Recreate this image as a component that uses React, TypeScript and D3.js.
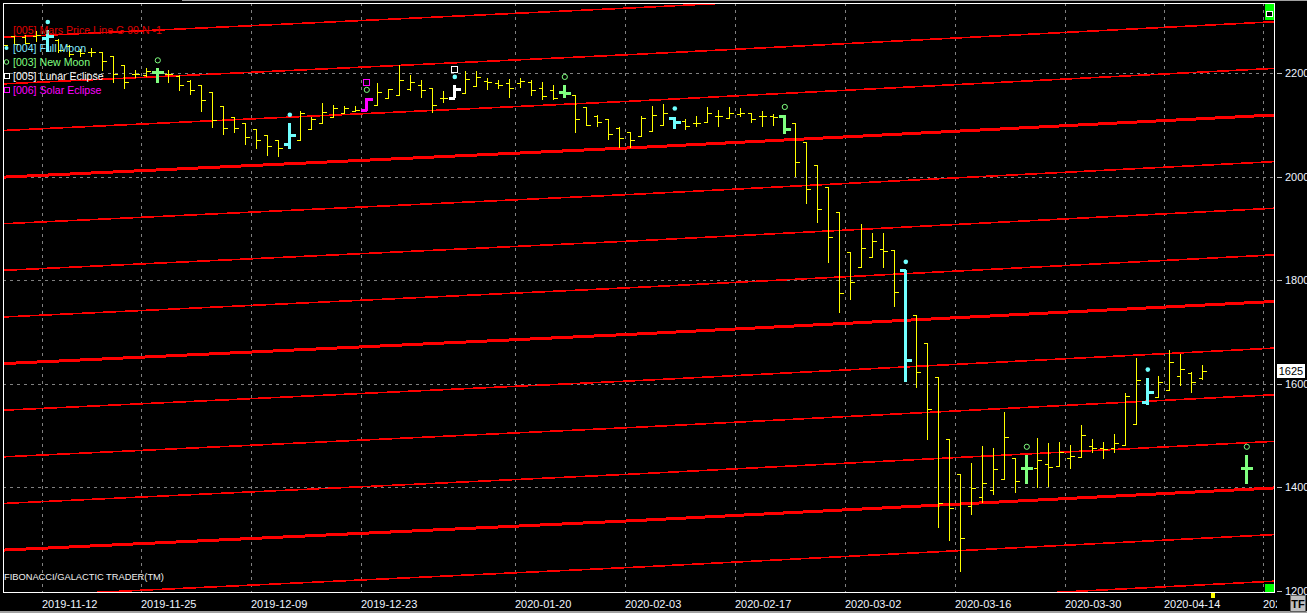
import { useEffect, useRef } from "react";
import * as d3 from "d3";

const WIDTH = 1307;
const HEIGHT = 613;
const PLOT = { LEFT: 3, TOP: 3, RIGHT: 1274.5, BOTTOM: 592 };
const FONT = "'Liberation Sans', Arial, sans-serif";

// daily OHLC, bar index 0 = 2019-11-06 ... 109 = 2020-04-17
const barOpen = [
  2277, 2271, 2270, 2271, 2268, 2264, 2252, 2242, 2241, 2241,
  2233, 2215, 2199, 2196, 2201, 2199, 2194, 2185, 2177, 2163,
  2136, 2115, 2103, 2091, 2080, 2071, 2063, 2071, 2091, 2103,
  2116, 2122, 2127, 2128, 2138, 2151, 2158, 2170, 2177, 2172,
  2151, 2152, 2161, 2175, 2185, 2181, 2180, 2181, 2183, 2171,
  2167, 2163, 2158, 2134, 2117, 2111, 2094, 2086, 2078, 2088,
  2100, 2113, 2107, 2104, 2105, 2117, 2113, 2120, 2122, 2117,
  2117, 2117, 2103, 2066, 2022, 1979, 1931, 1854, 1825, 1844,
  1860, 1858, 1820, 1733, 1678, 1614, 1493, 1425, 1364, 1381,
  1395, 1416, 1456, 1438, 1437, 1445, 1441, 1456, 1458, 1479,
  1477, 1476, 1481, 1522, 1565, 1574, 1588, 1615, 1621, 1612,
];
const barHigh = [
  2287, 2271, 2273, 2281, 2283, 2266, 2254, 2246, 2248, 2241,
  2233, 2215, 2206, 2209, 2209, 2206, 2196, 2187, 2177, 2164,
  2136, 2116, 2103, 2091, 2080, 2071, 2104, 2126, 2115, 2142,
  2138, 2136, 2137, 2152, 2180, 2170, 2215, 2196, 2187, 2172,
  2165, 2177, 2204, 2204, 2190, 2187, 2188, 2190, 2187, 2183,
  2177, 2177, 2158, 2134, 2119, 2111, 2095, 2087, 2117, 2136,
  2140, 2116, 2111, 2117, 2134, 2129, 2135, 2132, 2122, 2127,
  2121, 2119, 2103, 2066, 2022, 1979, 1931, 1854, 1909, 1892,
  1892, 1858, 1820, 1733, 1678, 1614, 1493, 1425, 1447, 1480,
  1476, 1545, 1456, 1463, 1495, 1485, 1488, 1482, 1520, 1493,
  1488, 1504, 1582, 1649, 1612, 1615, 1665, 1658, 1623, 1636,
];
const barLow = [
  2235, 2254, 2256, 2260, 2241, 2239, 2231, 2231, 2231, 2203,
  2180, 2170, 2190, 2193, 2180, 2181, 2166, 2158, 2125, 2093,
  2080, 2084, 2061, 2053, 2040, 2037, 2053, 2071, 2091, 2103,
  2114, 2121, 2124, 2127, 2137, 2151, 2156, 2165, 2151, 2122,
  2142, 2151, 2161, 2174, 2167, 2170, 2152, 2171, 2156, 2148,
  2148, 2152, 2085, 2098, 2096, 2071, 2055, 2055, 2078, 2087,
  2100, 2091, 2089, 2096, 2104, 2096, 2111, 2116, 2103, 2096,
  2098, 2082, 1999, 1947, 1910, 1834, 1736, 1762, 1825, 1844,
  1823, 1749, 1604, 1591, 1492, 1321, 1297, 1237, 1347, 1369,
  1385, 1416, 1390, 1407, 1398, 1400, 1440, 1435, 1458, 1466,
  1454, 1467, 1481, 1522, 1559, 1574, 1588, 1596, 1583, 1607,
];
const barClose = [
  2254, 2256, 2258, 2273, 2271, 2244, 2237, 2238, 2241, 2223,
  2198, 2183, 2199, 2203, 2201, 2199, 2177, 2167, 2148, 2109,
  2093, 2093, 2077, 2071, 2059, 2055, 2080, 2123, 2112, 2125,
  2132, 2132, 2129, 2149, 2163, 2169, 2187, 2182, 2167, 2138,
  2152, 2170, 2188, 2193, 2182, 2177, 2172, 2185, 2167, 2156,
  2151, 2161, 2111, 2100, 2105, 2082, 2074, 2071, 2113, 2119,
  2123, 2106, 2098, 2104, 2123, 2117, 2123, 2123, 2111, 2117,
  2115, 2091, 2028, 1977, 1937, 1884, 1775, 1797, 1862, 1876,
  1857, 1778, 1646, 1623, 1551, 1369, 1360, 1302, 1398, 1408,
  1435, 1498, 1413, 1438, 1453, 1439, 1469, 1461, 1501, 1476,
  1474, 1486, 1576, 1607, 1584, 1603, 1642, 1628, 1603, 1625,
];

// projected New Moon bar (2020-04-23)
const futureBarIndex = 113;
const futureBar = { open: 1438, high: 1463, low: 1407, close: 1438 };
const todayBarIndex = 110;

const fullMoonBars = [4, 26, 41, 61, 82, 104];
const newMoonBars = [14, 33, 51, 71, 93, 113];
const lunarEclipseBars = [41];
const solarEclipseBars = [33];

const tickBars = [4, 13, 23, 33, 47, 57, 67, 77, 87, 97, 106, 115];
const tickLabels = [
  "2019-11-12", "2019-11-25", "2019-12-09", "2019-12-23", "2020-01-20", "2020-02-03",
  "2020-02-17", "2020-03-02", "2020-03-16", "2020-03-30", "2020-04-14", "2020-04-27",
];
const priceTicks = [1200, 1400, 1600, 1800, 2000, 2200];

// Mars price line: base level read at left, middle and right, harmonics every 90
const marsBars = [0, 57.5, 115.6];
const marsBase = [1279, 1336, 1399];
const marsOffsets = [-180, -90, 0, 90, 180, 270, 360, 450, 540, 630, 720, 810, 900, 990];

const legendLabels = [
  "[005] Mars Price Line G 90 N -1",
  "[004] Full Moon",
  "[003] New Moon",
  "[005] Lunar Eclipse",
  "[006] Solar Eclipse",
];

const YELLOW = "#ffff00";
const CYAN = "#70ffff";
const GREEN = "#80ff80";
const WHITE = "#ffffff";
const MAGENTA = "#ff00ff";
const RED = "#ff0000";

const App = () => {
  const svgRef = useRef<SVGSVGElement | null>(null);

  useEffect(() => {
    const svg = d3.select(svgRef.current);
    svg.selectAll("*").remove();

    const x = d3.scaleLinear().domain([0, 115]).range([3.3, 3.3 + 11 * 115]);
    const y = d3.scaleLinear().domain([1200, 2200]).range([591, 73]);
    const px = (v: number) => Math.round(v) + 0.5;

    svg.append("rect").attr("width", WIDTH).attr("height", HEIGHT).attr("fill", "#000");

    const defs = svg.append("defs");
    defs
      .append("clipPath")
      .attr("id", "plot-clip")
      .append("rect")
      .attr("x", PLOT.LEFT)
      .attr("y", PLOT.TOP)
      .attr("width", PLOT.RIGHT - PLOT.LEFT)
      .attr("height", PLOT.BOTTOM - PLOT.TOP);
    defs
      .append("clipPath")
      .attr("id", "xlab-clip")
      .append("rect")
      .attr("x", 0)
      .attr("y", PLOT.BOTTOM)
      .attr("width", 1277)
      .attr("height", HEIGHT - PLOT.BOTTOM);

    // dashed grid
    const grid = svg
      .append("g")
      .attr("stroke", "#808080")
      .attr("stroke-width", 1)
      .attr("stroke-dasharray", "3,4")
      .attr("shape-rendering", "crispEdges");
    grid
      .selectAll(".vgrid")
      .data(tickBars)
      .join("line")
      .attr("class", "vgrid")
      .attr("x1", (d) => px(x(d - 0.5)))
      .attr("x2", (d) => px(x(d - 0.5)))
      .attr("y1", PLOT.TOP)
      .attr("y2", PLOT.BOTTOM);
    grid
      .selectAll(".hgrid")
      .data(priceTicks.filter((p) => p > 1200))
      .join("line")
      .attr("class", "hgrid")
      .attr("x1", PLOT.LEFT)
      .attr("x2", PLOT.RIGHT)
      .attr("y1", (d) => px(y(d)))
      .attr("y2", (d) => px(y(d)));

    // Mars price lines
    const mars = svg.append("g").attr("clip-path", "url(#plot-clip)");
    marsOffsets.forEach((off) => {
      const line = d3
        .line<number>()
        .x((_, i) => x(marsBars[i]))
        .y((b) => y(b + off));
      mars
        .append("path")
        .attr("d", line(marsBase))
        .attr("fill", "none")
        .attr("stroke", RED)
        .attr("stroke-width", off % 360 === 0 ? 3 : 1.6)
        .attr("shape-rendering", "crispEdges");
    });

    // OHLC bars
    const barColor = (j: number) => {
      if (lunarEclipseBars.includes(j)) return WHITE;
      if (solarEclipseBars.includes(j)) return MAGENTA;
      if (fullMoonBars.includes(j)) return CYAN;
      if (newMoonBars.includes(j)) return GREEN;
      return YELLOW;
    };

    const bars = barOpen.map((o, j) => ({
      j,
      open: o,
      high: barHigh[j],
      low: barLow[j],
      close: barClose[j],
    }));
    bars.push({ j: futureBarIndex, ...futureBar });

    const barG = svg.append("g").attr("clip-path", "url(#plot-clip)");
    barG
      .selectAll("path")
      .data(bars)
      .join("path")
      .attr("d", (d) => {
        const event = barColor(d.j) !== YELLOW;
        const t = event ? 6 : 4;
        const cx = px(x(d.j));
        const yo = px(y(d.open));
        const yc = px(y(d.close));
        return `M${cx},${Math.round(y(d.high))}V${Math.round(y(d.low))}` +
          `M${cx - t},${yo}H${cx}M${cx},${yc}H${cx + t}`;
      })
      .attr("fill", "none")
      .attr("stroke", (d) => barColor(d.j))
      .attr("stroke-width", (d) => (barColor(d.j) !== YELLOW ? 3 : 1))
      .attr("shape-rendering", "crispEdges");

    const highOf = (j: number) => (j === futureBarIndex ? futureBar.high : barHigh[j]);

    // event markers above bars
    const marks = svg.append("g");
    marks
      .selectAll(".full")
      .data(fullMoonBars)
      .join("circle")
      .attr("cx", (j) => x(j) + 0.5)
      .attr("cy", (j) => y(highOf(j)) - 8)
      .attr("r", 2.3)
      .attr("fill", CYAN);
    marks
      .selectAll(".new")
      .data(newMoonBars)
      .join("circle")
      .attr("cx", (j) => x(j) + 0.5)
      .attr("cy", (j) => y(highOf(j)) - 8)
      .attr("r", 2.6)
      .attr("fill", "none")
      .attr("stroke", GREEN)
      .attr("stroke-width", 1);
    const squares = [
      ...lunarEclipseBars.map((j) => ({ j, c: WHITE })),
      ...solarEclipseBars.map((j) => ({ j, c: MAGENTA })),
    ];
    marks
      .selectAll(".sq")
      .data(squares)
      .join("rect")
      .attr("x", (d) => Math.round(x(d.j)) - 2.5)
      .attr("y", (d) => Math.round(y(highOf(d.j)) - 16) - 2.5)
      .attr("width", 6)
      .attr("height", 6)
      .attr("fill", "none")
      .attr("stroke", (d) => d.c)
      .attr("stroke-width", 1.2)
      .attr("shape-rendering", "crispEdges");

    // legend
    const legendColors = ["#e00000", "#80e8ff", GREEN, WHITE, MAGENTA];
    const legendY = [30, 48, 62, 76, 90];
    const legend = svg.append("g").attr("font-family", FONT).attr("font-size", 10.6);
    legendLabels.forEach((label, i) => {
      legend
        .append("text")
        .attr("x", 13)
        .attr("y", legendY[i] + 4)
        .attr("fill", legendColors[i])
        .text(label);
    });
    legend.append("circle").attr("cx", 6.5).attr("cy", 48).attr("r", 2).attr("fill", CYAN);
    legend
      .append("circle")
      .attr("cx", 6.5)
      .attr("cy", 62)
      .attr("r", 2.3)
      .attr("fill", "none")
      .attr("stroke", GREEN);
    legend
      .append("rect")
      .attr("x", 4.5)
      .attr("y", 73.5)
      .attr("width", 5)
      .attr("height", 5)
      .attr("fill", "none")
      .attr("stroke", WHITE);
    legend
      .append("rect")
      .attr("x", 4.5)
      .attr("y", 87.5)
      .attr("width", 5)
      .attr("height", 5)
      .attr("fill", "none")
      .attr("stroke", MAGENTA);

    svg
      .append("text")
      .attr("x", 4)
      .attr("y", 580)
      .attr("font-family", FONT)
      .attr("font-size", 9.3)
      .attr("fill", "#f0f0f0")
      .text("FIBONACCI/GALACTIC TRADER(TM)");

    // frame
    svg
      .append("rect")
      .attr("x", PLOT.LEFT + 0.5)
      .attr("y", PLOT.TOP + 0.5)
      .attr("width", PLOT.RIGHT - PLOT.LEFT - 0.5)
      .attr("height", PLOT.BOTTOM - PLOT.TOP - 0.5)
      .attr("fill", "none")
      .attr("stroke", "#ffffff")
      .attr("stroke-width", 1)
      .attr("shape-rendering", "crispEdges");

    // corner buttons
    svg.append("rect").attr("x", 1265).attr("y", 4).attr("width", 9).attr("height", 16).attr("fill", "#00ff00");
    svg.append("rect").attr("x", 1266.5).attr("y", 11.5).attr("width", 6).attr("height", 5).attr("fill", "#000").attr("stroke", "#fff");
    svg.append("rect").attr("x", 1265).attr("y", 584).attr("width", 9).attr("height", 8).attr("fill", "#00ff00");

    // right price axis
    const axis = svg.append("g").attr("font-family", FONT).attr("font-size", 11);
    axis
      .selectAll("line")
      .data(priceTicks)
      .join("line")
      .attr("x1", 1277)
      .attr("x2", 1282)
      .attr("y1", (d) => px(y(d)))
      .attr("y2", (d) => px(y(d)))
      .attr("stroke", "#c0c0c0")
      .attr("shape-rendering", "crispEdges");
    axis
      .selectAll("text")
      .data(priceTicks)
      .join("text")
      .attr("x", 1285)
      .attr("y", (d) => y(d) + 4)
      .attr("fill", "#eef4ff")
      .text((d) => d);

    const lastClose = barClose[barClose.length - 1];
    svg
      .append("rect")
      .attr("x", 1277)
      .attr("y", Math.round(y(lastClose)) - 7)
      .attr("width", 28)
      .attr("height", 14)
      .attr("fill", "#ffffff");
    svg
      .append("text")
      .attr("x", 1291)
      .attr("y", y(lastClose) + 4)
      .attr("text-anchor", "middle")
      .attr("font-family", FONT)
      .attr("font-size", 11)
      .attr("fill", "#000")
      .text(lastClose);

    // bottom date axis
    svg
      .append("g")
      .attr("clip-path", "url(#xlab-clip)")
      .attr("font-family", FONT)
      .attr("font-size", 11)
      .selectAll("text")
      .data(tickBars)
      .join("text")
      .attr("x", (d) => Math.round(x(d - 0.5)))
      .attr("y", 608)
      .attr("fill", "#eef4ff")
      .text((_, i) => tickLabels[i]);

    svg
      .append("rect")
      .attr("x", Math.round(x(todayBarIndex)) - 2)
      .attr("y", 593)
      .attr("width", 4)
      .attr("height", 5)
      .attr("fill", YELLOW);

    svg.append("rect").attr("x", 182).attr("y", 0).attr("width", WIDTH - 182).attr("height", 1).attr("fill", "#a0a0a0");
    svg.append("rect").attr("x", 0).attr("y", 611).attr("width", WIDTH).attr("height", 2).attr("fill", "#a0a0a0");
    svg
      .append("rect")
      .attr("x", 1290.5)
      .attr("y", 595.5)
      .attr("width", 15)
      .attr("height", 16)
      .attr("fill", "#c0c0c0")
      .attr("stroke", "#606060");
    svg
      .append("text")
      .attr("x", 1298)
      .attr("y", 608)
      .attr("text-anchor", "middle")
      .attr("font-family", FONT)
      .attr("font-size", 11)
      .attr("font-weight", "bold")
      .attr("fill", "#000")
      .text("TF");
  }, []);

  return (
    <svg
      ref={svgRef}
      width={WIDTH}
      height={HEIGHT}
      style={{ position: "absolute", left: 0, top: 0, display: "block" }}
    />
  );
};

export default App;
